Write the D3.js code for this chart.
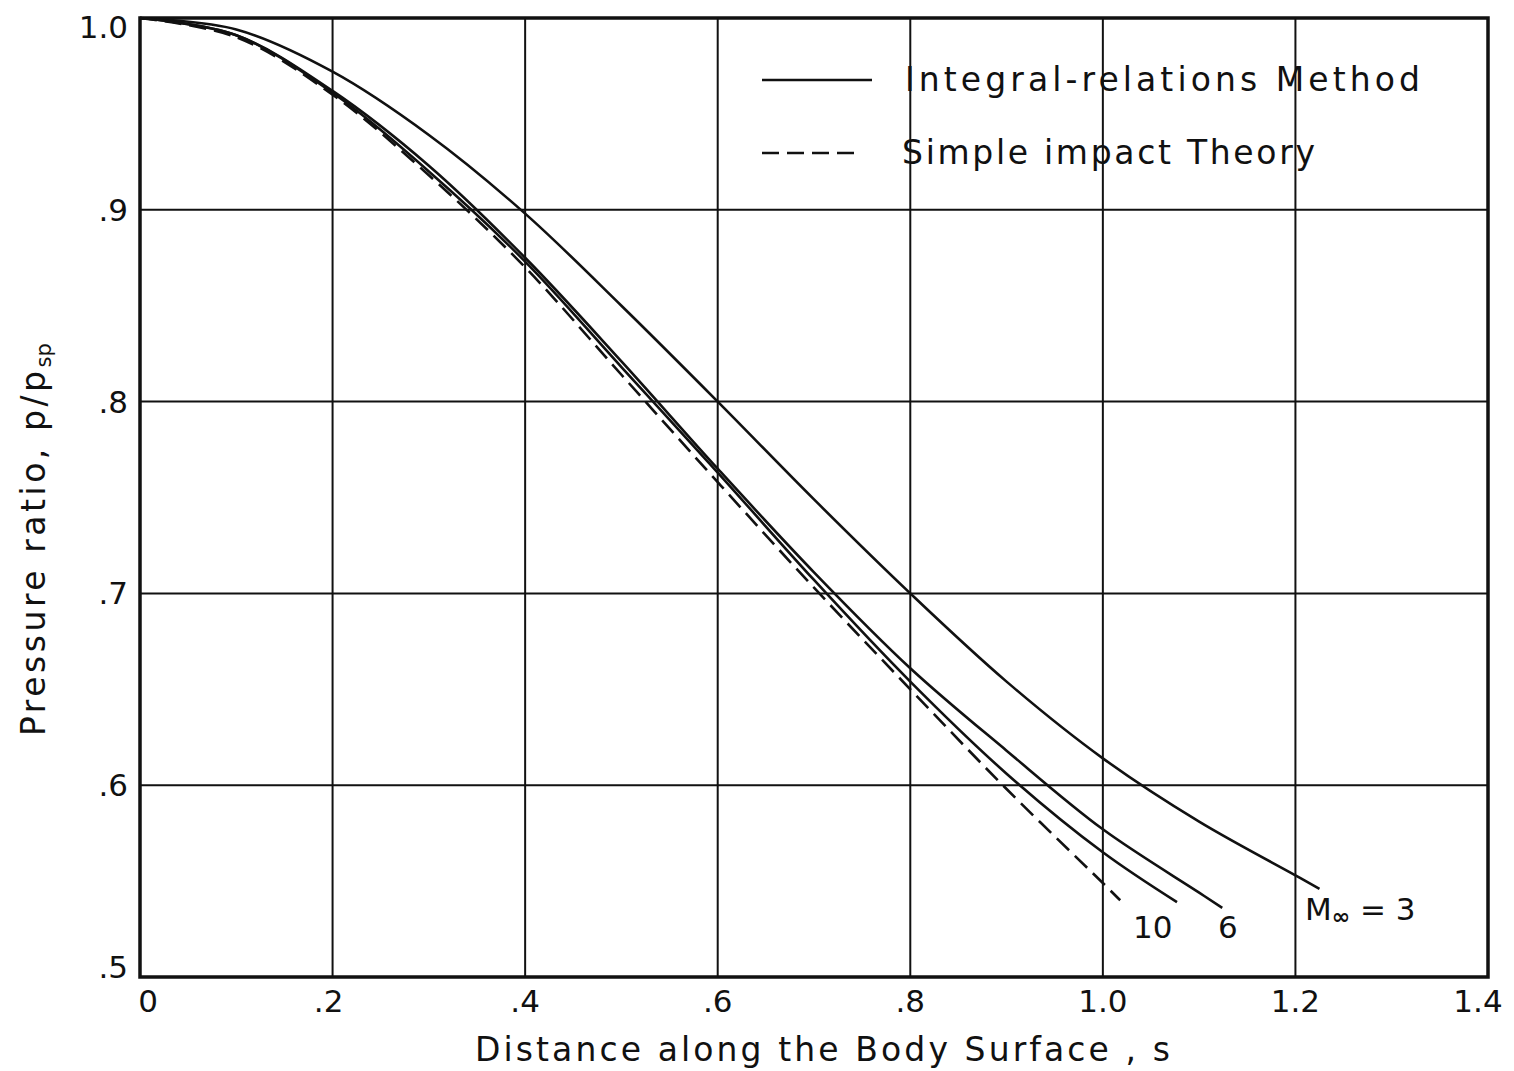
<!DOCTYPE html>
<html>
<head>
<meta charset="utf-8">
<script src="https://cdn.jsdelivr.net/npm/d3@7"></script>
<style>
  body { margin: 0; background: #fff; }
  text { font-family: "DejaVu Sans", sans-serif; fill: #111; }
</style>
</head>
<body>
<div id="chart"></div>
<script>
// data
var sM3 = [0, 0.1, 0.2, 0.3, 0.4, 0.5, 0.6, 0.7, 0.8, 0.9, 1.0, 1.1, 1.2, 1.225];
var pM3 = [1.0, 0.994, 0.972, 0.939, 0.898, 0.850, 0.800, 0.749, 0.700, 0.654, 0.614, 0.581, 0.553, 0.546];

var sM6 = [0, 0.1, 0.2, 0.3, 0.4, 0.5, 0.6, 0.7, 0.8, 0.9, 1.0, 1.1, 1.124];
var pM6 = [1.0, 0.991, 0.962, 0.923, 0.875, 0.821, 0.765, 0.711, 0.661, 0.618, 0.577, 0.544, 0.536];

var sM10 = [0, 0.1, 0.2, 0.3, 0.4, 0.5, 0.6, 0.7, 0.8, 0.9, 1.0, 1.077];
var pM10 = [1.0, 0.991, 0.961, 0.920, 0.873, 0.818, 0.763, 0.707, 0.654, 0.606, 0.565, 0.539];

var sImpact = [0, 0.1, 0.2, 0.3, 0.4, 0.5, 0.6, 0.7, 0.8, 0.9, 1.0, 1.018];
var pImpact = [1.0, 0.990, 0.960, 0.918, 0.870, 0.814, 0.758, 0.703, 0.650, 0.598, 0.549, 0.540];

var xTicks = [0, 0.2, 0.4, 0.6, 0.8, 1.0, 1.2, 1.4];
var xTickLabels = ["0", ".2", ".4", ".6", ".8", "1.0", "1.2", "1.4"];
var yTicks = [0.5, 0.6, 0.7, 0.8, 0.9, 1.0];
var yTickLabels = [".5", ".6", ".7", ".8", ".9", "1.0"];

var svgWidth = 1514;
var svgHeight = 1071;

var margin = { top: 18, right: 26, bottom: 94, left: 140 };
var width = svgWidth - margin.left - margin.right;
var height = svgHeight - margin.top - margin.bottom;

var svg = d3.select("#chart")
  .append("svg")
  .attr("width", svgWidth)
  .attr("height", svgHeight);

var chartGroup = svg.append("g")
  .attr("transform", `translate(${margin.left}, ${margin.top})`);

var xScale = d3.scaleLinear().domain([0, 1.4]).range([0, width]);
var yScale = d3.scaleLinear().domain([0.5, 1.0]).range([height, 0]);

// grid
chartGroup.selectAll(".vgrid")
  .data(xTicks)
  .enter()
  .append("line")
  .attr("x1", d => xScale(d))
  .attr("x2", d => xScale(d))
  .attr("y1", 0)
  .attr("y2", height)
  .attr("stroke", "#111")
  .attr("stroke-width", 2);

chartGroup.selectAll(".hgrid")
  .data(yTicks)
  .enter()
  .append("line")
  .attr("x1", 0)
  .attr("x2", width)
  .attr("y1", d => yScale(d))
  .attr("y2", d => yScale(d))
  .attr("stroke", "#111")
  .attr("stroke-width", 2);

// frame
chartGroup.append("rect")
  .attr("x", 0)
  .attr("y", 0)
  .attr("width", width)
  .attr("height", height)
  .attr("fill", "none")
  .attr("stroke", "#111")
  .attr("stroke-width", 3.5);

// tick labels
var xOffsets = [8, -4, 0, 0, 0, 0, 0, -10];
chartGroup.selectAll(".xlab")
  .data(xTicks)
  .enter()
  .append("text")
  .attr("x", (d, i) => xScale(d) + xOffsets[i])
  .attr("y", height + 35)
  .attr("text-anchor", "middle")
  .attr("font-size", "31px")
  .text((d, i) => xTickLabels[i]);

var yOffsets = [-10, 0, 0, 0, 0, 9];
chartGroup.selectAll(".ylab")
  .data(yTicks)
  .enter()
  .append("text")
  .attr("x", -12)
  .attr("y", (d, i) => yScale(d) + yOffsets[i] + 11)
  .attr("text-anchor", "end")
  .attr("font-size", "31px")
  .text((d, i) => yTickLabels[i]);

// axis titles
svg.append("text")
  .attr("x", 475)
  .attr("y", 1061)
  .attr("font-size", "33px")
  .attr("textLength", 695)
  .attr("lengthAdjust", "spacing")
  .text("Distance along the Body Surface , s");

var yTitle = svg.append("text")
  .attr("transform", "translate(45, 736) rotate(-90)")
  .attr("font-size", "33px");
yTitle.append("tspan")
  .attr("textLength", 365)
  .attr("lengthAdjust", "spacing")
  .text("Pressure ratio, p/p");
yTitle.append("tspan")
  .attr("font-size", "21px")
  .attr("dy", 6)
  .text("sp");

// curves
var line = d3.line()
  .x(d => xScale(d[0]))
  .y(d => yScale(d[1]))
  .curve(d3.curveCatmullRom.alpha(0.5));

var solidSeries = [
  d3.zip(sM3, pM3),
  d3.zip(sM6, pM6),
  d3.zip(sM10, pM10)
];

chartGroup.selectAll(".curve")
  .data(solidSeries)
  .enter()
  .append("path")
  .attr("d", line)
  .attr("fill", "none")
  .attr("stroke", "#111")
  .attr("stroke-width", 2.6);

chartGroup.append("path")
  .attr("d", line(d3.zip(sImpact, pImpact)))
  .attr("fill", "none")
  .attr("stroke", "#111")
  .attr("stroke-width", 2.6)
  .attr("stroke-dasharray", "17,8");

// curve labels
chartGroup.append("text")
  .attr("x", 993)
  .attr("y", 920)
  .attr("font-size", "31px")
  .text("10");
chartGroup.append("text")
  .attr("x", 1078)
  .attr("y", 920)
  .attr("font-size", "31px")
  .text("6");
var mLabel = chartGroup.append("text")
  .attr("x", 1165)
  .attr("y", 902)
  .attr("font-size", "31px");
mLabel.append("tspan").text("M");
mLabel.append("tspan").attr("font-size", "22px").attr("font-weight", "bold").attr("dy", 4).text("∞");
mLabel.append("tspan").attr("dy", -4).text(" = 3");

// legend
svg.append("line")
  .attr("x1", 762).attr("x2", 872)
  .attr("y1", 80).attr("y2", 80)
  .attr("stroke", "#111").attr("stroke-width", 2.6);
svg.append("text")
  .attr("x", 905).attr("y", 91)
  .attr("font-size", "33px")
  .attr("textLength", 515)
  .attr("lengthAdjust", "spacing")
  .text("Integral-relations Method");

svg.append("line")
  .attr("x1", 762).attr("x2", 860)
  .attr("y1", 153).attr("y2", 153)
  .attr("stroke", "#111").attr("stroke-width", 2.6)
  .attr("stroke-dasharray", "17,8");
svg.append("text")
  .attr("x", 902).attr("y", 164)
  .attr("font-size", "33px")
  .attr("textLength", 413)
  .attr("lengthAdjust", "spacing")
  .text("Simple impact Theory");
</script>
</body>
</html>
